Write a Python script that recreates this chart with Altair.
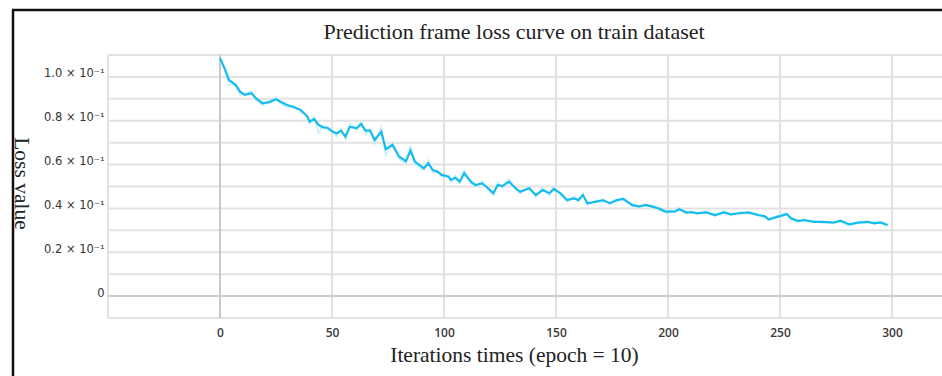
import altair as alt
import pandas as pd

# Training iterations (epoch = 10) and the smoothed prediction-frame loss
iterations = [0, 2, 4, 7, 9, 11, 14, 16, 19, 22, 25, 27, 30, 33, 36, 39, 40, 42, 44, 46,
              48, 50, 52, 54, 56, 58, 61, 63, 65, 67, 69, 72, 74, 77, 80, 83, 85, 87, 91, 93,
              95, 97, 99, 102, 103, 105, 107, 109, 112, 114, 117, 119, 122, 124, 126, 129, 132, 134, 138, 141,
              144, 147, 149, 152, 155, 158, 160, 162, 164, 168, 171, 174, 177, 180, 184, 187, 190, 193, 196, 199,
              201, 203, 205, 208, 211, 213, 217, 221, 225, 228, 232, 236, 240, 243, 245, 248, 253, 255, 258, 261,
              265, 269, 274, 277, 281, 285, 289, 292, 295, 298]

loss_smooth = [0.1085, 0.1040, 0.0986, 0.0963, 0.0933, 0.0918, 0.0926, 0.0903, 0.0880, 0.0885,
               0.0898, 0.0887, 0.0872, 0.0862, 0.0849, 0.0819, 0.0796, 0.0808, 0.0781, 0.0770,
               0.0768, 0.0752, 0.0742, 0.0755, 0.0728, 0.0773, 0.0766, 0.0785, 0.0755, 0.0755,
               0.0712, 0.0750, 0.0670, 0.0690, 0.0636, 0.0616, 0.0664, 0.0614, 0.0583, 0.0606,
               0.0575, 0.0568, 0.0553, 0.0545, 0.0530, 0.0540, 0.0522, 0.0560, 0.0522, 0.0507,
               0.0514, 0.0499, 0.0469, 0.0507, 0.0502, 0.0522, 0.0492, 0.0476, 0.0492, 0.0461,
               0.0484, 0.0469, 0.0489, 0.0469, 0.0438, 0.0446, 0.0438, 0.0461, 0.0423, 0.0431,
               0.0438, 0.0423, 0.0438, 0.0443, 0.0416, 0.0408, 0.0416, 0.0408, 0.0400, 0.0385,
               0.0385, 0.0386, 0.0396, 0.0382, 0.0382, 0.0378, 0.0382, 0.0370, 0.0382, 0.0373,
               0.0378, 0.0382, 0.0370, 0.0365, 0.0350, 0.0359, 0.0374, 0.0355, 0.0342, 0.0347,
               0.0339, 0.0339, 0.0335, 0.0344, 0.0327, 0.0335, 0.0339, 0.0332, 0.0336, 0.0324]

# Raw (unsmoothed) loss drawn faintly behind the smoothed curve
loss_raw = [0.1085, 0.1035, 0.0965, 0.0968, 0.0918, 0.0925, 0.0935, 0.0893, 0.0872, 0.0892,
            0.0905, 0.0878, 0.0862, 0.0868, 0.0842, 0.0825, 0.0785, 0.0815, 0.0745, 0.0778,
            0.0760, 0.0762, 0.0728, 0.0765, 0.0715, 0.0790, 0.0758, 0.0800, 0.0738, 0.0765,
            0.0695, 0.0768, 0.0640, 0.0700, 0.0625, 0.0605, 0.0690, 0.0600, 0.0575, 0.0620,
            0.0560, 0.0575, 0.0545, 0.0552, 0.0520, 0.0550, 0.0515, 0.0575, 0.0515, 0.0498,
            0.0525, 0.0490, 0.0460, 0.0518, 0.0495, 0.0535, 0.0485, 0.0468, 0.0500, 0.0452,
            0.0495, 0.0460, 0.0500, 0.0462, 0.0430, 0.0455, 0.0432, 0.0470, 0.0415, 0.0438,
            0.0430, 0.0430, 0.0430, 0.0450, 0.0408, 0.0415, 0.0410, 0.0415, 0.0393, 0.0380,
            0.0392, 0.0380, 0.0405, 0.0376, 0.0388, 0.0372, 0.0388, 0.0364, 0.0390, 0.0367,
            0.0384, 0.0376, 0.0376, 0.0360, 0.0343, 0.0364, 0.0380, 0.0345, 0.0348, 0.0340,
            0.0344, 0.0333, 0.0340, 0.0337, 0.0321, 0.0340, 0.0333, 0.0338, 0.0330, 0.0320]

x_ticks = [-50, 0, 50, 100, 150, 200, 250, 300]
y_grid = [-0.01, 0.0, 0.01, 0.02, 0.03, 0.04, 0.05, 0.06, 0.07, 0.08, 0.09, 0.10, 0.11]
y_label_values = [0.0, 0.02, 0.04, 0.06, 0.08, 0.10]
y_label_texts = ["0", "0.2 × 10⁻¹", "0.4 × 10⁻¹", "0.6 × 10⁻¹", "0.8 × 10⁻¹", "1.0 × 10⁻¹"]
chart_title = "Prediction frame loss curve on train dataset"

df = pd.DataFrame({"iter": iterations, "smooth": loss_smooth, "raw": loss_raw})
grid_df = pd.DataFrame({"y": y_grid})
vgrid_df = pd.DataFrame({"x": x_ticks})
zero = pd.DataFrame({"v": [0]})
title_df = pd.DataFrame({"t": [chart_title]})

SERIF = "Liberation Serif"
SANS = "Open Sans"
GRID = "#e2e2e2"

x_scale = alt.Scale(domain=[-50, 322.3], nice=False, zero=False)
y_scale = alt.Scale(domain=[-0.01, 0.11], nice=False, zero=False)

label_array = "[" + ", ".join(f"'{t}'" for t in y_label_texts) + "]"

x_axis = alt.Axis(
    values=x_ticks,
    labelExpr="datum.value < 0 ? '' : datum.label",
    grid=False, domain=False, ticks=False, labelOverlap=False,
    labelFont=SANS, labelFontSize=12, labelFontWeight=600, labelColor="#3a3a3a",
    labelPadding=9,
    title="Iterations times (epoch = 10)",
    titleFont=SERIF, titleFontSize=21.5, titleFontWeight="normal", titleColor="#222222",
    titlePadding=6, titleX=406,
)

y_axis = alt.Axis(
    values=y_label_values,
    labelExpr=label_array + "[round(datum.value * 50)]",
    grid=False, domain=False, ticks=False, labelOverlap=False,
    labelFont="DejaVu Sans", labelFontSize=11.5, labelColor="#333333", labelPadding=4,
    labelBaseline="middle", labelOffset=-3,
    title="Loss value",
    titleFont=SERIF, titleFontSize=21.5, titleFontWeight="normal", titleColor="#222222",
    titleAngle=90, titleX=-88, titleY=128, titleAlign="center", titleBaseline="middle",
)

X = lambda f: alt.X(f, type="quantitative", scale=x_scale, axis=x_axis)
Y = lambda f: alt.Y(f, type="quantitative", scale=y_scale, axis=y_axis)

# Horizontal and vertical gridlines
hgrid = alt.Chart(grid_df).mark_rule(color=GRID, strokeWidth=2).encode(y=Y("y"))
vgrid = alt.Chart(vgrid_df).mark_rule(color=GRID, strokeWidth=2).encode(x=X("x"))

# Darker zero lines
zero_x = alt.Chart(zero).mark_rule(color="#c9c9c9", strokeWidth=2).encode(x=X("v"))
zero_y = alt.Chart(zero).mark_rule(color="#cdcdcd", strokeWidth=2).encode(y=Y("v"))

base = alt.Chart(df)
raw_line = base.mark_line(color="#bfeefb", strokeWidth=1.6, opacity=0.9).encode(
    x=X("iter"), y=Y("raw")
)
smooth_line = base.mark_line(color="#14bdee", strokeWidth=2.2).encode(
    x=X("iter"), y=Y("smooth")
)

# Chart heading
heading = alt.Chart(title_df).mark_text(
    font=SERIF, fontSize=22, color="#222222", align="center", baseline="middle"
).encode(x=alt.value(406), y=alt.value(-23), text="t:N")

# Black frame along the top and left of the figure
frame_left = alt.Chart(zero).mark_rule(color="#111111", strokeWidth=2.5).encode(
    x=alt.value(-95), y=alt.value(-45), y2=alt.value(330)
)
frame_top = alt.Chart(zero).mark_rule(color="#111111", strokeWidth=2.5).encode(
    x=alt.value(-96), x2=alt.value(840), y=alt.value(-45)
)

chart = alt.layer(
    hgrid, vgrid, zero_x, zero_y, raw_line, smooth_line, heading, frame_left, frame_top
).properties(
    width=834,
    height=263,
    autosize=alt.AutoSizeParams(type="none"),
    padding={"left": 108, "top": 55, "right": 0, "bottom": 58},
).configure_view(stroke=None).configure(background="white")

chart.save("out.html", embed_options={"renderer": "svg", "actions": False})
